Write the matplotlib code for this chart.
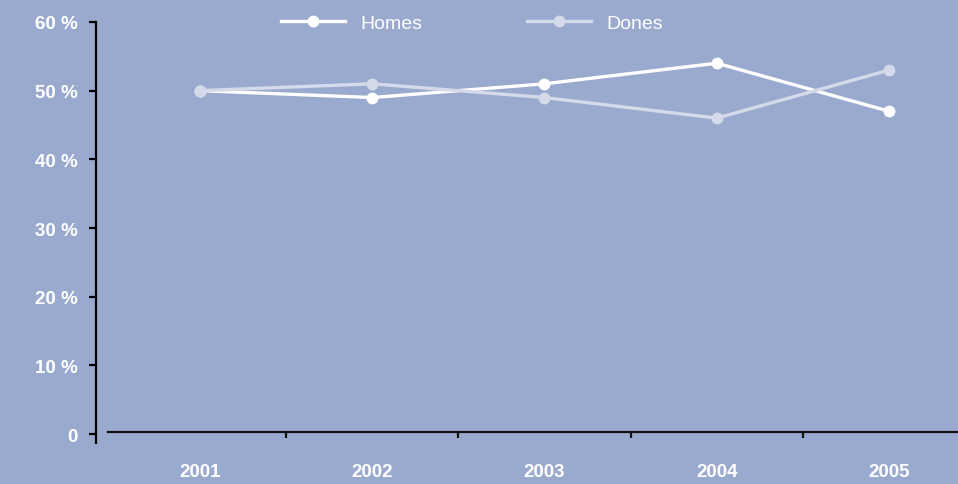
import matplotlib
matplotlib.use("Agg")
import matplotlib.pyplot as plt
from matplotlib.lines import Line2D

years = ["2001", "2002", "2003", "2004", "2005"]
homes = [50, 49, 51, 54, 47]
dones = [50, 51, 49, 46, 53]
y_ticks = [0, 10, 20, 30, 40, 50, 60]
y_labels = ["0", "10 %", "20 %", "30 %", "40 %", "50 %", "60 %"]

BG = "#9AAACE"
HOMES_C = "#FFFFFF"
DONES_C = "#D5DAEA"

plt.rcParams["font.family"] = ["Liberation Sans", "DejaVu Sans"]

W, H = 958, 485
fig = plt.figure(figsize=(W / 100, H / 100), dpi=100, facecolor=BG)
ax = fig.add_axes([96 / W, 1 - 444 / H, (W - 96) / W, (444 - 23) / H])
ax.set_facecolor(BG)

x = list(range(len(years)))
ax.plot(x, homes, color=HOMES_C, lw=2.4, marker="o", ms=7.5, mec=HOMES_C, zorder=3)
ax.plot(x, dones, color=DONES_C, lw=2.4, marker="o", ms=7.5, mec=DONES_C, zorder=4)

ax.set_xlim(-0.603, 4.4)
ax.set_ylim(-1.31, 60)

for s in ("top", "right"):
    ax.spines[s].set_visible(False)
ax.spines["left"].set_color("black")
ax.spines["left"].set_linewidth(1.6)
ax.spines["left"].set_bounds(-1.31, 60)
ax.spines["bottom"].set_position(("data", 0.25))
ax.spines["bottom"].set_color("#111111")
ax.spines["bottom"].set_linewidth(1.6)
ax.spines["bottom"].set_bounds(-0.533, 4.4)

ax.set_yticks(y_ticks)
ax.set_yticklabels(y_labels)
ax.tick_params(axis="y", direction="out", length=5, width=1.6, color="black",
               pad=8, labelsize=13.5, labelcolor="white")
for t in ax.get_yticklabels():
    t.set_fontweight("bold")

# category labels sit at band centres, tick marks on the band edges
ax.set_xticks([i + 0.5 for i in range(len(years) - 1)])
ax.set_xticklabels([])
ax.tick_params(axis="x", direction="out", length=4, width=1.6, color="#111111")
ax.set_xticks(x, minor=True)
ax.set_xticklabels(years, minor=True)
ax.tick_params(axis="x", which="minor", length=0, pad=22, labelsize=13.5,
               labelcolor="white")
for t in ax.get_xticklabels(minor=True):
    t.set_fontweight("bold")

handles = [
    Line2D([], [], color=HOMES_C, lw=2.4, marker="o", ms=7.5, mec=HOMES_C),
    Line2D([], [], color=DONES_C, lw=2.4, marker="o", ms=7.5, mec=DONES_C),
]
leg = fig.legend(handles, ["Homes", "Dones"], ncol=2, frameon=False,
                 loc="center left", bbox_to_anchor=(281 / W, 1 - 24 / H),
                 borderpad=0, borderaxespad=0, handlelength=3.3,
                 handletextpad=0.8, columnspacing=5.35, fontsize=14)
for t in leg.get_texts():
    t.set_color("white")

fig.savefig("out.png", dpi=100, facecolor=BG)
